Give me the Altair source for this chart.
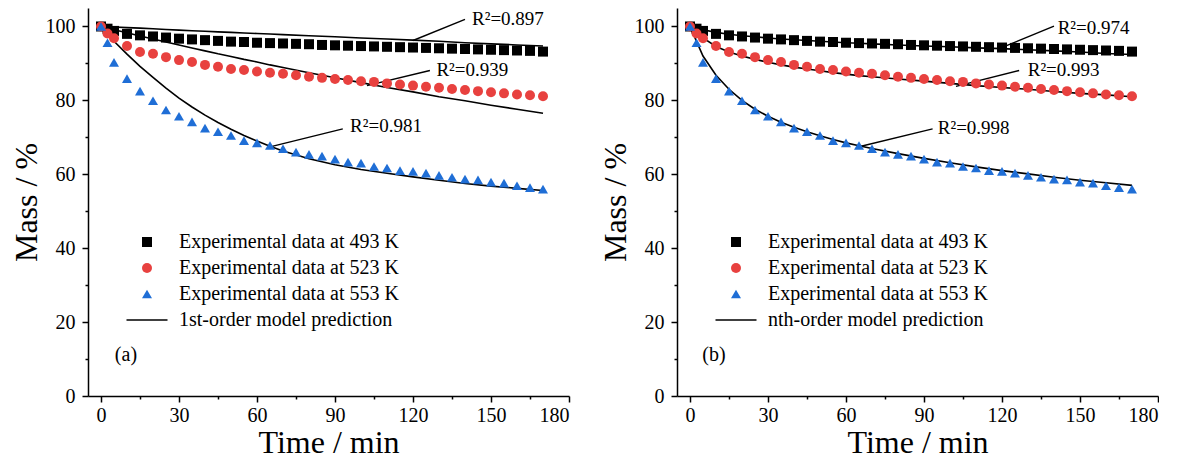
import altair as alt
import pandas as pd

# ---------------- data ----------------
time_exp = [0, 2.5, 5, 10, 15, 20, 25, 30, 35, 40, 45, 50, 55, 60, 65, 70, 75, 80,
            85, 90, 95, 100, 105, 110, 115, 120, 125, 130, 135, 140, 145, 150, 155,
            160, 165, 170]
mass_493 = [100, 99.4, 98.8, 98.0, 97.6, 97.3, 97.0, 96.7, 96.5, 96.3, 96.1, 95.9,
            95.8, 95.6, 95.5, 95.4, 95.3, 95.2, 95.0, 94.9, 94.8, 94.7, 94.6, 94.5,
            94.4, 94.3, 94.2, 94.1, 94.0, 93.9, 93.8, 93.7, 93.6, 93.5, 93.4, 93.2]
mass_523 = [100, 98.1, 96.8, 94.7, 93.1, 92.6, 91.7, 90.9, 90.4, 89.6, 89.1, 88.5,
            88.2, 87.8, 87.5, 87.2, 86.8, 86.4, 86.1, 85.8, 85.5, 85.2, 85.0, 84.6,
            84.3, 84.0, 83.7, 83.4, 83.1, 82.8, 82.5, 82.2, 81.9, 81.6, 81.4, 81.1]
mass_553 = [100, 95.6, 90.3, 85.9, 82.5, 79.9, 77.4, 75.7, 74.2, 72.5, 71.5, 70.5,
            69.1, 68.5, 67.8, 66.9, 66.0, 65.4, 64.9, 64.1, 63.3, 63.0, 62.1, 61.7,
            61.0, 60.8, 60.3, 59.7, 59.2, 58.7, 58.5, 57.9, 57.6, 56.9, 56.4, 56.0]

time_model = [0, 5, 10, 15, 20, 25, 30, 35, 40, 45, 50, 55, 60, 65, 70, 80, 90, 100,
              110, 120, 130, 140, 150, 160, 170]
first_493 = [100, 99.85, 99.7, 99.55, 99.4, 99.2, 99.0, 98.85, 98.7, 98.55, 98.4,
             98.25, 98.1, 97.95, 97.8, 97.5, 97.2, 96.9, 96.6, 96.3, 96.0, 95.6,
             95.3, 95.0, 94.7]
first_523 = [100, 99.1, 98.3, 97.4, 96.6, 95.8, 95.0, 94.2, 93.4, 92.6, 91.9, 91.1,
             90.4, 89.6, 88.9, 87.5, 86.1, 84.8, 83.5, 82.3, 81.0, 79.9, 78.7, 77.6,
             76.5]
first_553 = [100, 96.0, 92.5, 89.2, 86.2, 83.3, 80.6, 78.2, 76.0, 74.0, 72.2, 70.5,
             69.0, 67.6, 66.3, 64.2, 62.6, 61.3, 60.3, 59.3, 58.4, 57.5, 56.8, 56.2,
             55.6]
nth_493 = [100, 99.1, 98.4, 97.9, 97.5, 97.2, 96.9, 96.6, 96.4, 96.2, 96.0, 95.8,
           95.6, 95.45, 95.3, 95.0, 94.7, 94.5, 94.2, 94.0, 93.7, 93.4, 93.1, 92.7,
           92.4]
nth_523 = [100, 96.9, 94.6, 93.1, 92.0, 91.1, 90.3, 89.6, 89.0, 88.5, 88.0, 87.5,
           87.1, 86.7, 86.4, 85.8, 85.2, 84.6, 84.0, 83.5, 83.0, 82.4, 81.9, 81.5,
           81.0]
nth_553 = [100, 92.0, 86.8, 83.0, 80.0, 77.6, 75.7, 74.1, 72.7, 71.5, 70.4, 69.4,
           68.5, 67.7, 67.0, 65.6, 64.3, 63.1, 62.0, 61.0, 60.1, 59.2, 58.4, 57.7,
           57.0]

exp_labels = ["Experimental data at 493 K", "Experimental data at 523 K",
              "Experimental data at 553 K"]
temps = ["493 K", "523 K", "553 K"]

r2_left = ["R\u00b2=0.897", "R\u00b2=0.939", "R\u00b2=0.981"]
r2_left_from_t = [120, 102.3, 65]
r2_left_from_m = [96.2, 84.0, 67.4]
r2_left_to_t = [140, 126.5, 93]
r2_left_to_m = [101.9, 88.1, 72.3]
r2_left_text_t = [142.7, 129, 95.8]
r2_left_text_m = [101.9, 88.3, 73.0]

r2_right = ["R\u00b2=0.974", "R\u00b2=0.993", "R\u00b2=0.998"]
r2_right_from_t = [119.6, 102.3, 65.8]
r2_right_from_m = [94.2, 83.8, 67.6]
r2_right_to_t = [140, 126.6, 93.3]
r2_right_to_m = [100.1, 88.1, 72.3]
r2_right_text_t = [141.4, 129.9, 95.3]
r2_right_text_m = [99.6, 88.3, 72.5]

x_ticks = [0, 30, 60, 90, 120, 150, 180]
x_minor = [15, 45, 75, 105, 135, 165]
y_ticks = [0, 20, 40, 60, 80, 100]
y_minor = [10, 30, 50, 70, 90]

# ---------------- tables ----------------
exp_rows = []
for lab, vals in zip(exp_labels, [mass_493, mass_523, mass_553]):
    for t, m in zip(time_exp, vals):
        exp_rows.append({"t": t, "m": m, "series": lab})
exp_df = pd.DataFrame(exp_rows)

FONT = "Liberation Serif"
RED = "#E8413F"
BLUE = "#1F6ED6"
LINE_PATH = "M-4.1,-0.14L4.1,-0.14L4.1,0.14L-4.1,0.14Z"

xscale = alt.Scale(domain=[-5, 180], nice=False, zero=False)
yscale = alt.Scale(domain=[0, 105], nice=False, zero=False)


def panel(model_label, model_vals, r2, ft, fm, tt, tm, txt_t, txt_m, letter, letter_t):
    domain = exp_labels + [model_label]
    leg = alt.Legend(title=None, orient="none", legendX=49, legendY=224,
                     labelFont=FONT, labelFontSize=20, labelColor="black",
                     labelLimit=400, symbolSize=100, symbolStrokeWidth=0,
                     labelOffset=22, rowPadding=6, symbolOpacity=1)
    points = alt.Chart(exp_df).mark_point(filled=True, opacity=1, size=100, strokeWidth=0).encode(
        x=alt.X("t:Q", scale=xscale,
                axis=alt.Axis(values=x_ticks, title="Time / min", orient="bottom",
                              labelPadding=3, titlePadding=2, labelFont=FONT,
                              titleFont=FONT, labelFontSize=20, titleFontSize=32)),
        y=alt.Y("m:Q", scale=yscale,
                axis=alt.Axis(values=y_ticks, title="Mass / %", orient="left",
                              labelPadding=7, titlePadding=2, labelFont=FONT,
                              titleFont=FONT, labelFontSize=20, titleFontSize=32)),
        color=alt.Color("series:N", scale=alt.Scale(domain=domain, range=["black", RED, BLUE, "black"]),
                        legend=leg),
        shape=alt.Shape("series:N", scale=alt.Scale(domain=domain,
                                                    range=["square", "circle", "triangle-up", LINE_PATH]),
                        legend=leg),
    )

    mrows = []
    for temp, vals in zip(temps, model_vals):
        for t, m in zip(time_model, vals):
            mrows.append({"t": t, "m": m, "temp": temp})
    lines = alt.Chart(pd.DataFrame(mrows)).mark_line(color="black", strokeWidth=1.6).encode(
        x=alt.X("t:Q", scale=xscale, axis=None),
        y=alt.Y("m:Q", scale=yscale, axis=None),
        detail="temp:N",
    )

    ann = pd.DataFrame({"label": r2, "x1": ft, "y1": fm, "x2": tt, "y2": tm,
                        "tx": txt_t, "ty": txt_m})
    rules = alt.Chart(ann).mark_rule(color="black", strokeWidth=1.4).encode(
        x=alt.X("x1:Q", scale=xscale, axis=None),
        y=alt.Y("y1:Q", scale=yscale, axis=None),
        x2="x2:Q", y2="y2:Q",
    )
    texts = alt.Chart(ann).mark_text(align="left", baseline="middle", font=FONT,
                                     fontSize=19, color="black").encode(
        x=alt.X("tx:Q", scale=xscale, axis=None),
        y=alt.Y("ty:Q", scale=yscale, axis=None),
        text="label:N",
    )
    lab = alt.Chart(pd.DataFrame({"t": [letter_t], "m": [11.1], "s": [letter]})).mark_text(
        align="center", baseline="middle", font=FONT, fontSize=20, color="black").encode(
        x=alt.X("t:Q", scale=xscale, axis=None),
        y=alt.Y("m:Q", scale=yscale, axis=None),
        text="s:N",
    )
    minor = alt.Chart(exp_df).mark_point(opacity=0).encode(
        x=alt.X("t:Q", scale=xscale,
                axis=alt.Axis(values=x_minor, labels=False, title=None, domain=False,
                              tickSize=3, orient="bottom")),
        y=alt.Y("m:Q", scale=yscale,
                axis=alt.Axis(values=y_minor, labels=False, title=None, domain=False,
                              tickSize=3, orient="left")),
    )
    return alt.layer(lines, rules, texts, lab, minor, points).resolve_axis(
        x="independent", y="independent").properties(width=481, height=388)


left = panel("1st-order model prediction", [first_493, first_523, first_553],
             r2_left, r2_left_from_t, r2_left_from_m, r2_left_to_t, r2_left_to_m,
             r2_left_text_t, r2_left_text_m, "(a)", 9.6)
right = panel("nth-order model prediction", [nth_493, nth_523, nth_553],
              r2_right, r2_right_from_t, r2_right_from_m, r2_right_to_t, r2_right_to_m,
              r2_right_text_t, r2_right_text_m, "(b)", 9.2)

chart = alt.hconcat(left, right, spacing=29).resolve_scale(
    color="independent", shape="independent"
).properties(
    padding={"left": 2, "top": 0, "right": 0, "bottom": 0}
).configure_axis(
    domainColor="black", domainWidth=1.5, tickColor="black", tickWidth=1.5,
    labelColor="black", titleColor="black", labelFont=FONT, titleFont=FONT,
    labelFontSize=20, titleFontSize=32, titleFontWeight="normal", grid=False,
    tickSize=6,
).configure_legend(
    labelFont=FONT, labelFontSize=20, labelColor="black", labelLimit=400
).configure_view(stroke=None)

chart.save("out.html", embed_options={"renderer": "svg", "actions": False})
